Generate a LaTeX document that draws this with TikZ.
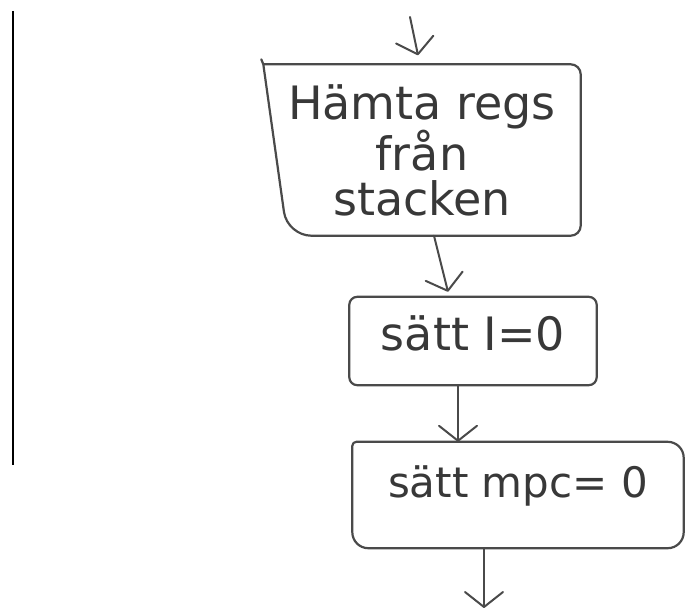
\documentclass[tikz,border=0pt]{standalone}
\usepackage{fontspec}
\setmainfont{DejaVu Sans}
\usetikzlibrary{arrows.meta}
\definecolor{pencil}{HTML}{4A4A4A}
\definecolor{ink}{HTML}{383838}
\begin{document}
\begin{tikzpicture}[x=1pt,y=-1pt,
  pencil/.style={draw=pencil,line width=2.2pt,line cap=round,line join=round},
  flow/.style={pencil,line width=2pt,-{Straight Barb[length=15pt,width=38pt,round]}},
  hand/.style={text=ink,font=\fontsize{46}{45}\selectfont,align=center,inner sep=0pt}]
\useasboundingbox (0,0) rectangle (685,610);

% margin rule on the left
\draw[line width=1.6pt,black] (13,11) -- (13,465);

% boxes (text nodes; outlines drawn from their anchors)
\node[hand,minimum width=317pt,minimum height=171pt] (b1) at (422,150)
  {Hämta regs\\från\\stacken};
\node[hand,minimum width=247pt,minimum height=88pt,text height=34pt,text depth=16pt]
  (b2) at (473,341) {sätt I=0};
\node[hand,font=\fontsize{42}{42}\selectfont,minimum width=331pt,minimum height=106pt,
  text height=31pt,text depth=26pt] (b3) at (518,495) {sätt mpc= 0};

\draw[pencil] ([xshift=-2pt,yshift=5pt]b1.north west) -- (b1.north west)
  [rounded corners=10pt] -- (b1.north east)
  -- (b1.south east) [rounded corners=24pt] -- ([xshift=24pt]b1.south west)
  [sharp corners] -- (b1.north west);
\draw[pencil,rounded corners=8pt] (b2.north west) rectangle (b2.south east);
\draw[pencil] (b3.north west) [rounded corners=16pt] -- (b3.north east)
  -- (b3.south east) -- (b3.south west) [rounded corners=4pt] -- cycle;

% connectors
\coordinate (in) at (410,17);
\coordinate (out) at (484,608);
\draw[flow] (in) -- ([xshift=-4pt,yshift=9pt]b1.north);
\draw[flow] ([xshift=12pt]b1.south) -- ([xshift=-25pt,yshift=5pt]b2.north);
\draw[flow] ([xshift=-15pt]b2.south) -- ([xshift=-60pt]b3.north);
\draw[flow] ([xshift=-34pt]b3.south) -- (out);
\end{tikzpicture}
\end{document}
